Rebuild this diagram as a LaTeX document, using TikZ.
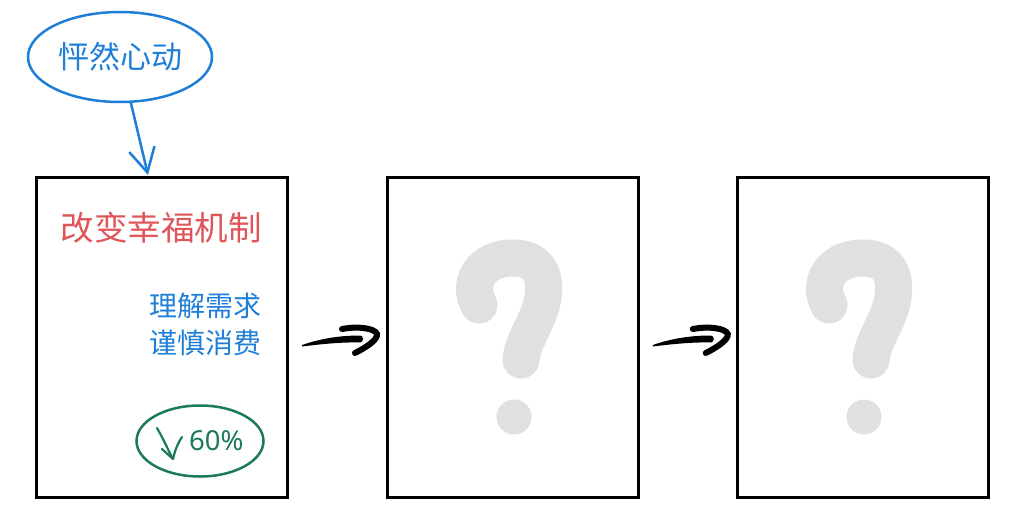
\documentclass[tikz,border=0pt]{standalone}
\usepackage{fontspec}
\newfontfamily\cjk{Noto Sans CJK SC}
\newfontfamily\latinsans{Noto Sans}
\usetikzlibrary{shapes.geometric,arrows.meta,calc}
\definecolor{myblue}{HTML}{1F7FD8}
\definecolor{myred}{HTML}{E0555A}
\definecolor{mygreen}{HTML}{1B7A5A}
\definecolor{qgray}{HTML}{E0E0E0}
\tikzset{
  card/.style={draw=black, line width=3pt, minimum width=251pt, minimum height=320pt, inner sep=0pt},
  bubble/.style={ellipse, draw=myblue, line width=2.5pt, minimum width=184pt, minimum height=90pt, inner sep=0pt, text=myblue, font=\cjk\fontsize{31}{36}\selectfont},
  gbubble/.style={ellipse, draw=mygreen, line width=2.5pt, minimum width=127pt, minimum height=71pt, inner sep=0pt},
  redtxt/.style={text=myred, font=\cjk\fontsize{33.5}{40}\selectfont, inner sep=0pt},
  bluetxt/.style={text=myblue, font=\cjk\fontsize{28}{34}\selectfont, inner sep=0pt, anchor=east},
  pcttxt/.style={text=mygreen, font=\latinsans\fontsize{27.5}{30}\selectfont, inner sep=0pt},
  brush/.pic={
    \fill[black] (-35,8) .. controls (-15,1) and (5,-1.5) .. (23,-1.5)
       .. controls (27,-1.5) and (27,5.5) .. (23,5.5)
       .. controls (5,5) and (-15,7) .. (-35,9.5) -- cycle;
    \draw[black, line width=6pt, line cap=round] (5,-8) .. controls (20,-11) and (38,-9) .. (40,-3)
       .. controls (41,3) and (28,11) .. (18,16);
  },
  qpic/.pic={
    \draw[qgray, line width=37pt, line cap=round] (-35,-32) .. controls (-47,-52) and (-35,-79) .. (-1,-79)
       .. controls (34,-79) and (34,-47) .. (24,-22) .. controls (18,-7) and (8,8) .. (7,23);
    \fill[qgray] (0,80) circle (17.5);
  }
}
\begin{document}
\begin{tikzpicture}[x=1pt,y=-1pt]
\useasboundingbox (0,0) rectangle (1024,514);
\fill[white] (0,0) rectangle (1024,514);
% cards
\node[card] (b1) at (161.5,337) {};
\node[card] (b2) at (512.5,337) {};
\node[card] (b3) at (863,337) {};
% top bubble
\node[bubble] (heart) at (120,57) {怦然心动};
\coordinate (tipA) at (148,175);
\draw[myblue, line width=2.5pt, -{Straight Barb[length=24pt,width=26pt,line width=2.5pt]}] (heart) -- (tipA);
% card 1 texts
\node[redtxt] (t1) at (161,228) {改变幸福机制};
\node[bluetxt] (t2) at (262,306) {理解需求};
\node[bluetxt] (t3) at (262,343) {谨慎消费};
\node[gbubble] (g) at (200,441) {};
\node[pcttxt, anchor=west] (pct) at (189,441) {60\%};
\draw[mygreen, line width=2.2pt, line cap=round] (157,428) .. controls (164,440) and (168,450) .. (173,459);
\draw[mygreen, line width=2.2pt, line cap=round, line join=round] (162,449) -- (173,459) .. controls (175,450) and (178,443) .. (182,437);
% brush arrows between cards
\coordinate (m1) at ($(b1.east)!0.5!(b2.west)$);
\coordinate (m2) at ($(b2.east)!0.5!(b3.west)$);
\pic at (m1) {brush};
\pic at (m2) {brush};
% question marks
\coordinate (q2) at (514,337);
\coordinate (q3) at (864,337);
\pic at (q2) {qpic};
\pic at (q3) {qpic};
\end{tikzpicture}
\end{document}
